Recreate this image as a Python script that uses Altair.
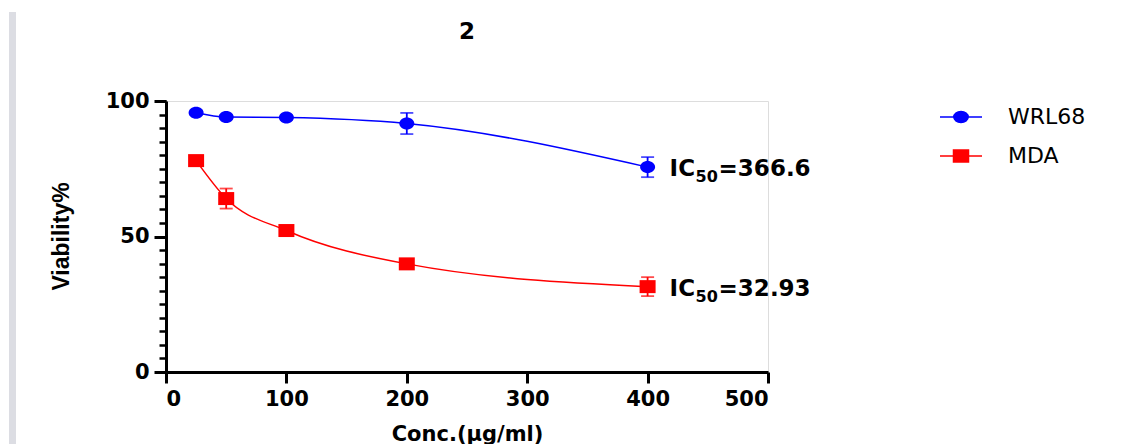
import math
import altair as alt
import pandas as pd

# ---- data ----
chart_title = "2"
conc = [25, 50, 100, 200, 400]
series_names = ["WRL68", "MDA"]
wrl68_mean = [95.7, 94.1, 93.9, 91.7, 75.6]
wrl68_err = [0.8, 0.8, 0.8, 3.9, 3.7]
mda_mean = [78.0, 64.0, 52.2, 39.9, 31.5]
mda_err = [1.8, 3.7, 1.0, 1.0, 3.5]
ic50_values = ["=366.6", "=32.93"]
ic_prefix = "IC"
ic_sub = "50"
colors = ["#0000ff", "#ff0000"]
x_ticks = [0, 100, 200, 300, 400, 500]
y_major = [0, 50, 100]
y_minor = list(range(0, 101, 5))

rows = []
for name, means, errs in [("WRL68", wrl68_mean, wrl68_err), ("MDA", mda_mean, mda_err)]:
    for c, m, e in zip(conc, means, errs):
        rows.append(dict(series=name, conc=c, mean=m, lo=m - e, hi=m + e))
df = pd.DataFrame(rows)

lab = df[df["conc"] == conc[-1]].copy()
lab["ic"] = lab["series"].map(dict(zip(series_names, ic50_values)))
lab["pre"] = ic_prefix
lab["sub"] = ic_sub

FONT = "DejaVu Sans"

# marker symbol paths (unit = sqrt(size)/2 px)
ELLIPSE = "M0.75,0A0.75,0.6 0 1,1 -0.75,0A0.75,0.6 0 1,1 0.75,0Z"
RECT = "M-0.8,-0.65H0.8V0.65H-0.8Z"


def _ellipse_legend(rx, ry, half):
    p = f"M{-half},0H{half}M{rx},0A{rx},{ry} 0 1,1 {-rx},0A{rx},{ry} 0 1,1 {rx},0Z"
    k = -4
    while k <= 4:
        yy = k * ry / 4.5
        hl = rx * math.sqrt(max(0.0, 1 - (yy / ry) ** 2))
        p += f"M{-hl:.3f},{yy:.3f}H{hl:.3f}"
        k += 1
    return p


def _rect_legend(hw, hh, half):
    p = f"M{-half},0H{half}M{-hw},{-hh}H{hw}V{hh}H{-hw}Z"
    k = -4
    while k <= 4:
        yy = k * hh / 4.5
        p += f"M{-hw},{yy:.3f}H{hw}"
        k += 1
    return p


LEG_ELLIPSE = _ellipse_legend(0.72, 0.55, 2.1)
LEG_RECT = _rect_legend(0.75, 0.6, 2.1)

xaxis = alt.Axis(values=x_ticks, title="Conc.(µg/ml)", grid=False,
                 domainColor="black", domainWidth=3, tickColor="black", tickWidth=3,
                 tickSize=11, labelFont=FONT, labelFontSize=21, labelFontWeight="bold",
                 labelColor="black", labelPadding=5, titleFont=FONT, titleFontSize=21,
                 titleFontWeight="bold", titleColor="black", titleX=301, titleY=68,
                 titleBaseline="alphabetic", titleAlign="center")
yaxis = alt.Axis(values=y_major, title="Viability%", grid=False, orient="left",
                 domainColor="black", domainWidth=3, tickColor="black", tickWidth=3,
                 tickSize=12, labelFont=FONT, labelFontSize=21, labelFontWeight="bold",
                 labelColor="black", labelPadding=5, titleFont="Liberation Sans",
                 titleFontSize=23, titleFontWeight="bold", titleColor="black",
                 titleAngle=270, titleX=-98, titleY=135, titleAlign="center",
                 titleBaseline="alphabetic")
xscale = alt.Scale(domain=[0, 500], nice=False)
yscale = alt.Scale(domain=[0, 100], nice=False)
cscale = alt.Scale(domain=series_names, range=colors)

leg = alt.Legend(title=None, orient="none", legendX=784, legendY=5, symbolSize=400,
                 symbolStrokeWidth=1.5, symbolOpacity=1, labelFont=FONT, labelFontSize=22,
                 labelColor="black", labelOffset=36, rowPadding=17, padding=0)


def X(f="conc"):
    return alt.X(f"{f}:Q", scale=xscale, axis=xaxis)


def Y(f):
    return alt.Y(f"{f}:Q", scale=yscale, axis=yaxis)


color = alt.Color("series:N", scale=cscale, legend=leg)
base = alt.Chart(df)

lines = base.mark_line(interpolate="monotone", strokeWidth=1.5).encode(
    x=X(), y=Y("mean"), color=color, order="conc:Q")
err = base.mark_rule(strokeWidth=1.8).encode(x=X(), y=Y("lo"), y2="hi", color=color)
cap_lo = base.mark_tick(orient="horizontal", size=13, thickness=1.8).encode(
    x=X(), y=Y("lo"), color=color)
cap_hi = base.mark_tick(orient="horizontal", size=13, thickness=1.8).encode(
    x=X(), y=Y("hi"), color=color)
pts_c = base.transform_filter(alt.datum.series == "WRL68").mark_point(
    shape=ELLIPSE, size=400, filled=True, opacity=1).encode(x=X(), y=Y("mean"), color=color)
pts_s = base.transform_filter(alt.datum.series == "MDA").mark_point(
    shape=RECT, size=400, filled=True, opacity=1).encode(x=X(), y=Y("mean"), color=color)

# legend-only layer (no rows drawn): supplies the symbol shapes for the legend
legend_layer = base.transform_filter("false").mark_point(size=400, strokeWidth=1.5, opacity=1).encode(
    x=X(), y=Y("mean"), color=color,
    shape=alt.Shape("series:N", scale=alt.Scale(domain=series_names, range=[LEG_ELLIPSE, LEG_RECT]),
                    legend=leg),
)

lbase = alt.Chart(lab)
t_pre = lbase.mark_text(align="left", baseline="alphabetic", dx=22, dy=9, font=FONT,
                        fontSize=23, fontWeight="bold", color="black").encode(
    x=X(), y=Y("mean"), text="pre:N")
t_sub = lbase.mark_text(align="left", baseline="alphabetic", dx=48, dy=15, font=FONT,
                        fontSize=16, fontWeight="bold", color="black").encode(
    x=X(), y=Y("mean"), text="sub:N")
t_val = lbase.mark_text(align="left", baseline="alphabetic", dx=71, dy=9, font=FONT,
                        fontSize=23, fontWeight="bold", color="black").encode(
    x=X(), y=Y("mean"), text="ic:N")

gray = alt.Chart(pd.DataFrame({"a": [0]})).mark_rect(color="#dcdde3").encode(
    x=alt.value(9 - 166), x2=alt.value(16 - 166), y=alt.value(12 - 101), y2=alt.value(444 - 101))

title_mark = alt.Chart(pd.DataFrame({"t": [chart_title]})).mark_text(
    font=FONT, fontSize=23, fontWeight="bold", color="black", align="center",
    baseline="alphabetic").encode(text="t:N", x=alt.value(301), y=alt.value(39 - 101))

main = alt.layer(gray, title_mark, lines, err, cap_lo, cap_hi, legend_layer, pts_c, pts_s,
                 t_pre, t_sub, t_val)

minor = base.mark_point(opacity=0).encode(
    y=alt.Y("mean:Q", scale=alt.Scale(domain=[0, 100], nice=False),
            axis=alt.Axis(values=y_minor, orient="left", labels=False, domain=False,
                          grid=False, title=None, tickSize=7, tickWidth=2.5,
                          tickColor="black")))

chart = alt.layer(main, minor).resolve_scale(y="independent").properties(
    width=602, height=271,
    padding={"left": 166, "top": 101, "right": 359, "bottom": 72},
    autosize=alt.AutoSizeParams(type="none"),
).configure_view(stroke=None).configure(background="white")

chart.save("out.html", embed_options={"renderer": "svg", "actions": False})
